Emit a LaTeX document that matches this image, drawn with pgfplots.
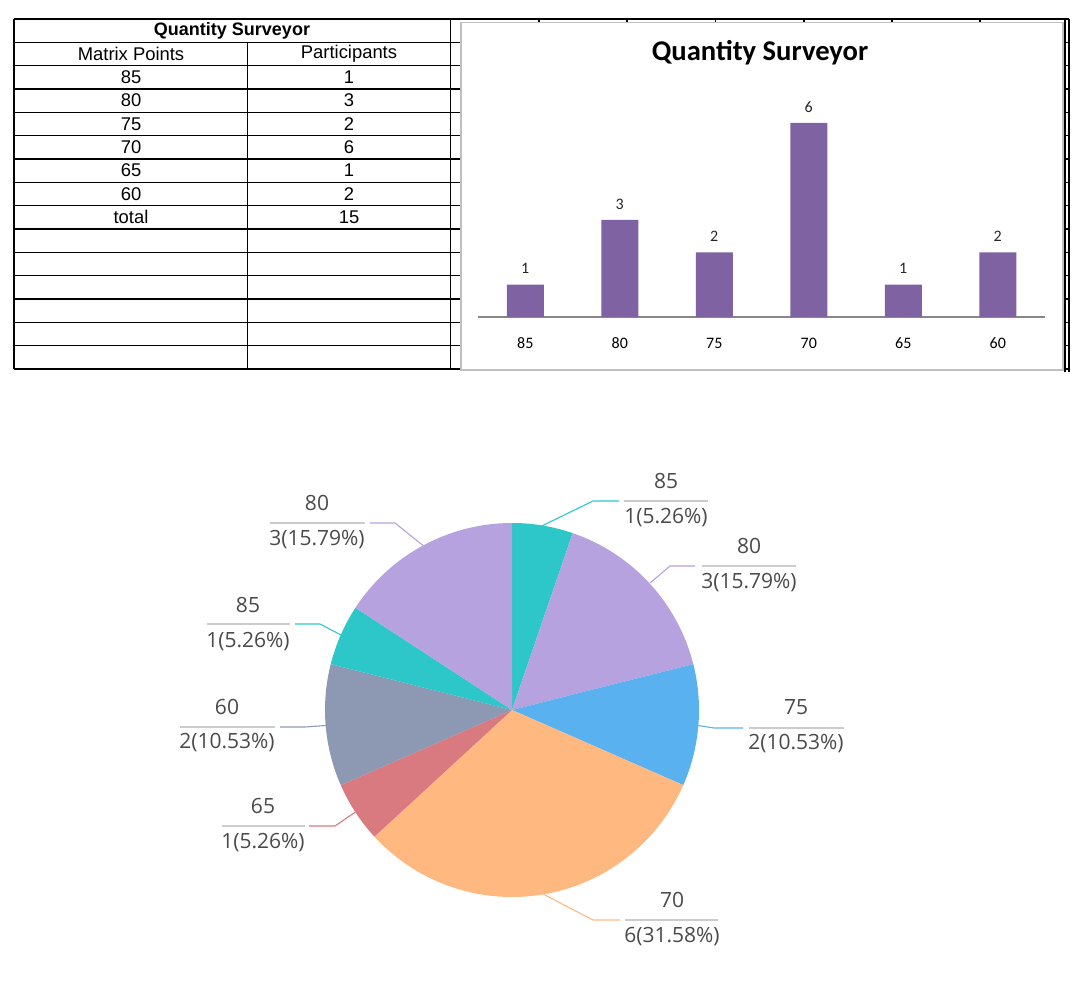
\documentclass[border=0pt]{standalone}
\usepackage{fontspec}
\setmainfont{Liberation Sans}
\newfontfamily\calibri{Carlito}
\newfontfamily\opensans{Open Sans}
\usepackage{pgfplots}
\pgfplotsset{compat=1.18}
\usepackage{pgfplotstable}

\definecolor{mteal}{HTML}{2EC7C9}
\definecolor{mlav}{HTML}{B6A2DE}
\definecolor{mblue}{HTML}{5AB1EF}
\definecolor{morange}{HTML}{FFB980}
\definecolor{mred}{HTML}{D87A80}
\definecolor{mgrey}{HTML}{8D98B3}
\definecolor{barpurple}{HTML}{7F62A1}
\definecolor{labgray}{HTML}{4A4A4A}
\definecolor{sepgray}{HTML}{CCCCCC}

\pgfplotstableread{
x label val
0 85 1
1 80 3
2 75 2
3 70 6
4 65 1
5 60 2
}\bardata

% pie slice: #1 = cumulative count before slice, #2 = count, #3 = colour (total 19)
\newcommand{\pieslice}[3]{%
  \addplot[fill=#3, draw=none] coordinates {(512,710)}
    -- ++({90-360*#1/19}:93.5pt)
    arc[start angle={90-360*#1/19}, end angle={90-360*(#1+#2)/19}, radius=93.5pt]
    -- cycle;
}

\begin{document}
\begin{tikzpicture}
\useasboundingbox (0,0) rectangle (540pt,503pt);

% ---------- pie chart (canvas axis in image pixel coordinates) ----------
\begin{axis}[at={(0pt,0pt)}, anchor=south west, scale only axis,
  width=540pt, height=503pt, xmin=0, xmax=1080, ymin=0, ymax=1006,
  y dir=reverse, hide axis, clip=false]
\pieslice{0}{1}{mteal}
\pieslice{1}{3}{mlav}
\pieslice{4}{2}{mblue}
\pieslice{6}{6}{morange}
\pieslice{12}{1}{mred}
\pieslice{13}{2}{mgrey}
\pieslice{15}{1}{mteal}
\pieslice{16}{3}{mlav}
\end{axis}

% ---------- decorations in image pixel coordinates ----------
\begin{scope}[x=0.5pt, y=-0.5pt, shift={(0pt,503pt)}]
  % spreadsheet grid peeking round the chart
  \draw[line width=0.7pt] (450,19) -- (1069,19);
  \foreach \xx in {539,627,715.5,804,892,980} \draw[line width=0.6pt] (\xx,19) -- (\xx,22.7);
  \draw[line width=0.7pt] (1065,19) -- (1065,372);
  \draw[line width=0.7pt] (1069,19) -- (1069,372);
  \foreach \k in {1,...,15} \draw[line width=0.6pt] (1065,{19+23.333*\k}) -- (1069,{19+23.333*\k});
  % table
  \foreach \k in {0,...,15} \draw[line width=0.75pt] (14,{19+23.333*\k}) -- (460,{19+23.333*\k});
  \draw[line width=0.75pt] (14,19) -- (14,369);
  \draw[line width=0.75pt] (247.7,42.3) -- (247.7,369);
  \draw[line width=0.75pt] (450.7,19) -- (450.7,369);
  \node[font=\bfseries\fontsize{9}{9}\selectfont] at (232,31) {Quantity Surveyor};
  \node[font=\fontsize{9.2}{9}\selectfont] at (131,54) {Matrix Points};
  \node[font=\fontsize{9.2}{9}\selectfont] at (349,54) {Participants};
  \foreach \a/\b [count=\i] in {85/1,80/3,75/2,70/6,65/1,60/2,total/15}{
    \node[font=\fontsize{9.2}{9}\selectfont] at (131,{19+23.333*(\i+1.5)}) {\a};
    \node[font=\fontsize{9.2}{9}\selectfont] at (349,{19+23.333*(\i+1.5)}) {\b};
  }
  % chart box and title
  \draw[line width=0.6pt, black!25] (461,22.7) rectangle (1063,370);
  \node[font=\calibri\bfseries\fontsize{14.3}{14}\selectfont] at (760,53) {Quantity Surveyor};

  % pie labels
  \tikzset{lab/.style={font=\opensans\fontsize{10.5}{10.5}\selectfont, text=labgray}}
  % 85 right
  \draw[mteal, line width=0.55pt] (541.7,526) -- (593,501) -- (619,501);
  \draw[sepgray, line width=0.7pt] (624,501) -- (708,501);
  \node[lab] at (666,481) {85}; \node[lab] at (666,518) {1(5.26\%)};
  % 80 right
  \draw[mlav, line width=0.55pt] (650,583) -- (670,566) -- (695,566);
  \draw[sepgray, line width=0.7pt] (702,566) -- (796,566);
  \node[lab] at (749,546) {80}; \node[lab] at (749,583) {3(15.79\%)};
  % 75
  \draw[mblue, line width=0.55pt] (698,725.5) -- (714,728) -- (743,728);
  \draw[sepgray, line width=0.7pt] (749,728) -- (844,728);
  \node[lab] at (796,707) {75}; \node[lab] at (796,744) {2(10.53\%)};
  % 70
  \draw[morange, line width=0.55pt] (543,894) -- (593,920) -- (620,920);
  \draw[sepgray, line width=0.7pt] (625,920) -- (718,920);
  \node[lab] at (672,900) {70}; \node[lab] at (672,937) {6(31.58\%)};
  % 65
  \draw[mred, line width=0.55pt] (355.5,812) -- (335,826) -- (309,826);
  \draw[sepgray, line width=0.7pt] (222,826) -- (305,826);
  \node[lab] at (263,806) {65}; \node[lab] at (263,843) {1(5.26\%)};
  % 60
  \draw[mgrey, line width=0.55pt] (326,725.5) -- (305,727) -- (280,727);
  \draw[sepgray, line width=0.7pt] (180,727) -- (275,727);
  \node[lab] at (227,707) {60}; \node[lab] at (227,743) {2(10.53\%)};
  % 85 left
  \draw[mteal, line width=0.55pt] (341,635) -- (320,624) -- (295,624);
  \draw[sepgray, line width=0.7pt] (207,624) -- (290,624);
  \node[lab] at (248,605) {85}; \node[lab] at (248,642) {1(5.26\%)};
  % 80 left
  \draw[mlav, line width=0.55pt] (423,545.5) -- (395,523) -- (370,523);
  \draw[sepgray, line width=0.7pt] (270,523) -- (365,523);
  \node[lab] at (317,503) {80}; \node[lab] at (317,540) {3(15.79\%)};
\end{scope}

% ---------- bar chart ----------
\begin{axis}[at={(239pt,344.5pt)}, anchor=south west, scale only axis,
  width=283.5pt, height=113.2pt, xmin=-0.5, xmax=5.5, ymin=0, ymax=7,
  ybar, bar width=18.5pt,
  axis x line*=bottom, axis y line=none,
  x axis line style={draw=black!47, line width=0.7pt},
  xtick=data, xticklabels={85,80,75,70,65,60},
  major tick length=0pt, ytick=\empty,
  /pgf/number format/assume math mode=true,
  xticklabel style={font=\calibri\fontsize{8}{8}\selectfont, anchor=center, yshift=-13pt},
  nodes near coords,
  nodes near coords style={font=\calibri\fontsize{8}{8}\selectfont, anchor=center, yshift=8pt, text=black!85},
  clip=false]
\addplot[fill=barpurple, draw=none] table[x=x, y=val] {\bardata};
\end{axis}
\end{tikzpicture}
\end{document}
